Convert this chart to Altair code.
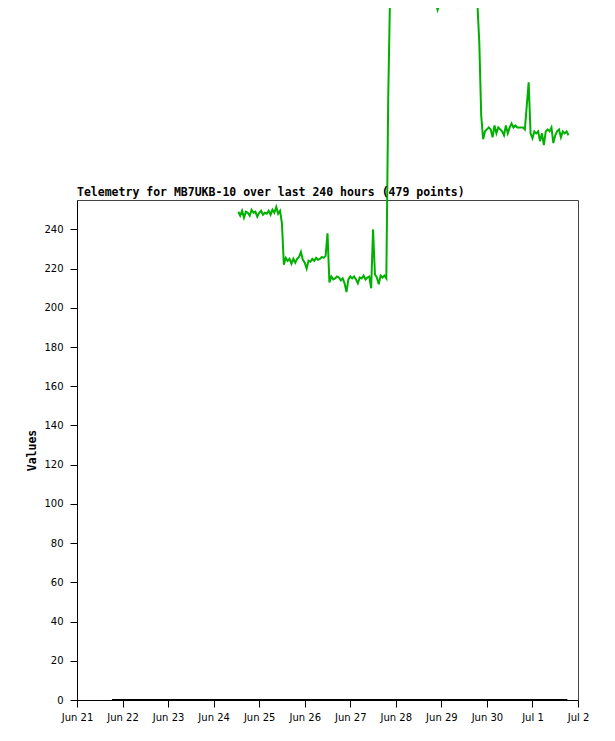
import altair as alt
import pandas as pd
from datetime import datetime, timedelta

BASE = datetime(2023, 6, 21, 0, 0)
TITLE = "Telemetry for MB7UKB-10 over last 240 hours (479 points)"

# Green telemetry series: hourly samples starting at hour 85 after Jun 21 00:00
seg1 = [249, 247, 249.5, 246, 249, 248.5, 247, 250, 248.5, 249, 246.5, 248.5,
        249.5, 247.5, 248.5, 248, 249.5, 247.5, 250, 248.5, 251.5, 248, 249.5, 243]
seg2 = [222, 225.5, 224, 225, 222.5, 225, 223, 225, 226, 228.5, 224.5, 223,
        220, 224, 223.5, 225, 224, 225.5, 224.5, 225, 226, 225.5, 226.5, 238]
seg3 = [213, 216, 214.5, 215, 216, 215.5, 214, 215, 212.5, 208, 214.5, 216,
        215, 216, 214.5, 212.5, 215.5, 215, 216.5, 214.5, 215.5, 216, 210, 240,
        217, 215.5, 212, 216.5, 215.5, 216.5, 215, 307]
seg4 = [362, 365, 363, 366, 364, 362, 365, 367, 363, 364, 366, 362,
        365, 364, 363, 366, 365, 362, 364, 366, 363, 365, 361, 359,
        356, 352, 355, 356, 355, 357, 359, 358, 356, 356, 358, 356,
        354, 357, 359, 360, 359, 360, 359, 358, 357, 358, 355, 335, 298]
seg5 = [286, 290, 291, 292, 291, 287, 293, 289, 292, 291, 290, 288,
        293, 289, 292, 294, 292, 293, 292, 292, 292, 292, 291, 303,
        315, 289, 286.5, 290, 289, 290, 285, 289, 283, 290, 291, 290,
        292, 284, 288, 290, 291, 287, 290, 289, 290, 288]
green_start_hour = 85
green_values = seg1 + seg2 + seg3 + seg4 + seg5

# Black zero series (start / end hours)
zero_hours = [18.4, 258.4]
zero_values = [0, 0]

green = pd.DataFrame({
    "time": [(BASE + timedelta(hours=green_start_hour + i)).strftime("%Y-%m-%dT%H:%M:%S")
             for i in range(len(green_values))],
    "value": green_values,
})
zero = pd.DataFrame({
    "time": [(BASE + timedelta(hours=h)).strftime("%Y-%m-%dT%H:%M:%S") for h in zero_hours],
    "value": zero_values,
})

xscale = alt.Scale(domain=["2023-06-21T00:00:00", "2023-07-02T00:00:00"], nice=False)
yscale = alt.Scale(domain=[0, 255], nice=False, zero=True)

xaxis = alt.Axis(title=None, format="%b %-d", tickCount={"interval": "day", "step": 1},
                 grid=False, domainColor="black", tickColor="black", tickSize=7,
                 labelFont="DejaVu Sans", labelFontSize=10, labelColor="black",
                 labelPadding=5, domainWidth=1, labelFlush=False, labelOverlap=False)
yaxis = alt.Axis(title="Values", values=list(range(0, 241, 20)), grid=False,
                 domainColor="black", tickColor="black", tickSize=7,
                 labelFont="DejaVu Sans", labelFontSize=10, labelColor="black",
                 labelPadding=7, titleFont="DejaVu Sans Mono", titleFontSize=11.5,
                 titleFontWeight="bold", titleColor="black", titlePadding=6)

green_line = alt.Chart(green).mark_line(color="#00b000", strokeWidth=2, interpolate="linear").encode(
    x=alt.X("time:T", scale=xscale, axis=xaxis),
    y=alt.Y("value:Q", scale=yscale, axis=yaxis),
)
zero_line = alt.Chart(zero).mark_line(color="black", strokeWidth=2).encode(
    x=alt.X("time:T", scale=xscale),
    y=alt.Y("value:Q", scale=yscale),
)
title_text = alt.Chart(pd.DataFrame({"t": [TITLE]})).mark_text(
    align="left", baseline="alphabetic", font="DejaVu Sans Mono", fontSize=11.5,
    fontWeight="bold", color="black",
).encode(text="t:N", x=alt.value(0), y=alt.value(-4))

chart = alt.layer(green_line, zero_line, title_text).properties(
    width=501,
    height=500,
    autosize=alt.AutoSizeParams(type="none"),
    padding={"left": 69, "top": 192, "right": 29, "bottom": 33},
    background="white",
).configure_view(stroke="#444444", strokeWidth=1)

chart.save("out.html", embed_options={"renderer": "svg", "actions": False})
